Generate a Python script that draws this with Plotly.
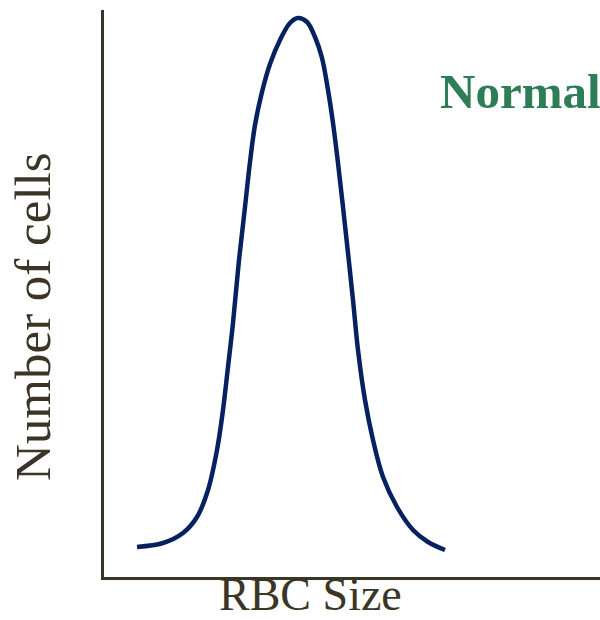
import plotly.graph_objects as go

# RBC size distribution (arbitrary units) for a normal sample
rbc_size = [33, 59, 79, 93, 104, 113, 119, 124, 129, 135, 141, 146, 151, 158, 166,
            176, 186, 194, 203, 211, 218, 224, 229, 234, 239, 244, 249, 254, 261,
            269, 279, 293, 309, 324, 341]
cell_count = [30, 34, 44, 60, 87, 127, 167, 210, 254, 317, 370, 415, 452, 485, 513,
              537, 554, 559, 555, 540, 519, 487, 454, 414, 370, 324, 277, 227, 177,
              137, 100, 70, 47, 35, 27]

x_title = "RBC Size"
y_title = "Number of cells"
label = "Normal"

axis_color = "#3b3526"
curve_color = "#06215f"
label_color = "#2f7d57"
serif = "Liberation Serif, Times New Roman, serif"

fig = go.Figure()
fig.add_trace(go.Scatter(
    x=rbc_size, y=cell_count, mode="lines",
    line=dict(color=curve_color, width=4.5, shape="spline", smoothing=1.0),
    hoverinfo="skip", showlegend=False,
))

fig.update_layout(
    width=600, height=620,
    margin=dict(l=104, r=0, t=10, b=43),
    paper_bgcolor="white", plot_bgcolor="white",
    xaxis=dict(range=[0, 496], showgrid=False, zeroline=False, showticklabels=False,
               ticks="", showline=True, linecolor=axis_color, linewidth=2.5),
    yaxis=dict(range=[0, 567], showgrid=False, zeroline=False, showticklabels=False,
               ticks="", showline=True, linecolor=axis_color, linewidth=2.5),
    annotations=[
        dict(text=x_title, xref="paper", yref="paper", x=(310 - 104) / 496, y=-45 / 567,
             xanchor="center", yanchor="bottom", showarrow=False,
             font=dict(family=serif, size=46, color=axis_color)),
        dict(text=y_title, xref="paper", yref="paper", x=-71 / 496, y=(577 - 317) / 567,
             xanchor="center", yanchor="middle", textangle=-90, showarrow=False,
             font=dict(family=serif, size=51, color=axis_color)),
        dict(text="<b>" + label + "</b>", xref="paper", yref="paper",
             x=(438 - 104) / 496, y=(577 - 91) / 567,
             xanchor="left", yanchor="middle", showarrow=False,
             font=dict(family=serif, size=49, color=label_color)),
    ],
)

fig.write_html("out.html")
